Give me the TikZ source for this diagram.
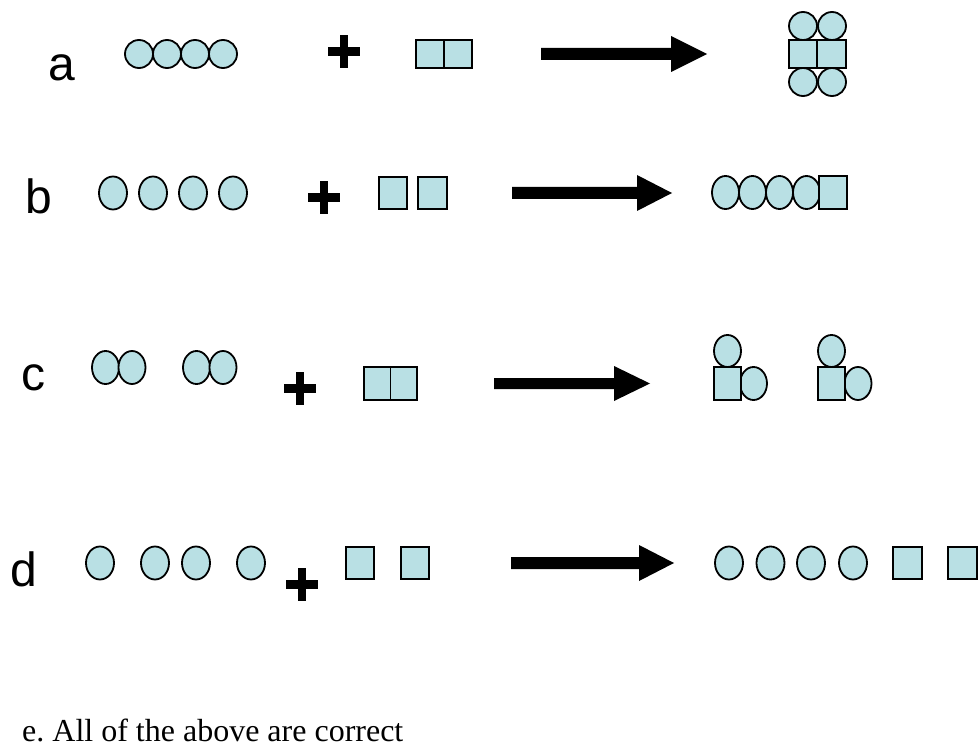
\documentclass[tikz,border=0pt]{standalone}
\usepackage{fontspec}
\setmainfont{Liberation Serif}
\newfontfamily\arialfont{Liberation Sans}
\definecolor{molfill}{RGB}{185,224,228}
\frenchspacing
\tikzset{
  mol/.style={draw=black, line width=1.8pt, fill=molfill},
  letter/.style={anchor=base west, inner sep=0pt, font=\arialfont\fontsize{48}{52}\selectfont},
  plussign/.pic={\fill[black] (-16,-4.5) rectangle (16,4.5); \fill[black] (-4,-16.5) rectangle (4,16.5);},
  bigarrow/.style={fill=black}
}
\newcommand{\mycirc}[2]{\draw[mol] (#1,#2) ellipse [x radius=14, y radius=14];}
\newcommand{\myell}[2]{\draw[mol] (#1,#2) ellipse [x radius=14, y radius=16.5];}
\begin{document}
\begin{tikzpicture}[x=1pt,y=-1pt]
\useasboundingbox (0,0) rectangle (980,746);
% ---- row a ----
\node[letter] (la) at (48,81) {a};
\mycirc{139}{54}\mycirc{167}{54}\mycirc{195}{54}\mycirc{223}{54}
\pic (pa) at (344,52) {plussign};
\draw[mol] (416,40) rectangle (444,68);
\draw[mol] (444,40) rectangle (472,68);
\fill[bigarrow] (541,48) -- (671,48) -- (671,36) -- (707,54) -- (671,72) -- (671,60) -- (541,60) -- cycle;
\mycirc{803}{26}\mycirc{832}{26}
\mycirc{803}{82}\mycirc{832}{82}
\draw[mol] (789,40) rectangle (817,68);
\draw[mol] (817,40) rectangle (846,68);
% ---- row b ----
\node[letter] (lb) at (25,214) {b};
\myell{113}{193}\myell{153}{193}\myell{193}{193}\myell{233}{193}
\pic (pb) at (324,198) {plussign};
\draw[mol] (379,177) rectangle (407,209);
\draw[mol] (418,177) rectangle (447,209);
\fill[bigarrow] (512,187) -- (637,187) -- (637,175) -- (672,193) -- (637,211) -- (637,199) -- (512,199) -- cycle;
\draw[mol] (725.5,192.5) ellipse [x radius=13.5, y radius=16.5];
\draw[mol] (752.5,192.5) ellipse [x radius=13.5, y radius=16.5];
\draw[mol] (779.5,192.5) ellipse [x radius=13.5, y radius=16.5];
\draw[mol] (806.5,192.5) ellipse [x radius=13.5, y radius=16.5];
\draw[mol] (819,176) rectangle (847,209);
% ---- row c ----
\node[letter] (lc) at (21,390) {c};
\draw[mol] (105.5,367.5) ellipse [x radius=13.5, y radius=16.5];
\draw[mol] (132,367.5) ellipse [x radius=13.5, y radius=16.5];
\draw[mol] (196.5,367.5) ellipse [x radius=13.5, y radius=16.5];
\draw[mol] (223,367.5) ellipse [x radius=13.5, y radius=16.5];
\pic (pc) at (299.5,388.5) {plussign};
\draw[mol] (364,367) rectangle (390.5,400);
\draw[mol] (390.5,367) rectangle (417,400);
\fill[bigarrow] (494,378) -- (614,378) -- (614,366) -- (650,383.5) -- (614,401) -- (614,389) -- (494,389) -- cycle;
\draw[mol] (727.5,351) ellipse [x radius=13.5, y radius=16];
\draw[mol] (753.5,383.5) ellipse [x radius=13.5, y radius=16.5];
\draw[mol] (714,367) rectangle (741,400);
\draw[mol] (831.5,351) ellipse [x radius=13.5, y radius=16];
\draw[mol] (858,383.5) ellipse [x radius=13.5, y radius=16.5];
\draw[mol] (818,367) rectangle (845,400);
% ---- row d ----
\node[letter] (ld) at (10,586) {d};
\myell{100}{563}\myell{155}{563}\myell{196}{563}\myell{251}{563}
\pic (pd) at (302,584.5) {plussign};
\draw[mol] (346,547) rectangle (374,579);
\draw[mol] (401,547) rectangle (429,579);
\fill[bigarrow] (511,557) -- (639,557) -- (639,545) -- (674,563) -- (639,581) -- (639,569) -- (511,569) -- cycle;
\myell{729}{563}\myell{770.5}{563}\myell{811}{563}\myell{853}{563}
\draw[mol] (893,547) rectangle (922,579);
\draw[mol] (948,547) rectangle (977,579);
% ---- e ----
\node[anchor=base west, inner sep=0pt, font=\fontsize{32}{36}\selectfont] (le) at (22,741) {e. All of the above are correct};
\end{tikzpicture}
\end{document}
